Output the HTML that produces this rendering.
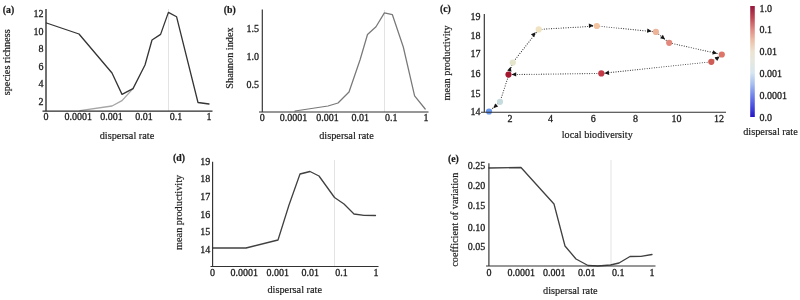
<!DOCTYPE html>
<html><head><meta charset="utf-8"><title>fig</title>
<style>
html,body{margin:0;padding:0;background:#fff;}
body{width:800px;height:300px;overflow:hidden;}
svg{display:block;}
text{font-family:"Liberation Serif",serif;font-size:10px;fill:#1c1c1c;stroke:#1c1c1c;stroke-width:0.28px;}
.pl{font-weight:bold;stroke-width:0.22px;font-size:9.8px;}
.al{font-size:10.3px;stroke-width:0.18px;}
.ax{stroke:#2c2c2c;stroke-width:1.35;fill:none;}
.ax2{stroke:#303030;stroke-width:1.15;fill:none;}
.ln{fill:none;stroke-linejoin:round;stroke-linecap:round;}
.vd{stroke:#dcdcdc;stroke-width:0.8;fill:none;}
.dt{stroke:#3a3a3a;stroke-width:1.15;stroke-dasharray:0.01 2.4;stroke-linecap:round;fill:none;}
</style></head><body>
<svg width="800" height="300" viewBox="0 0 800 300">
<defs>
<linearGradient id="cb" x1="0" y1="0" x2="0" y2="1">
<stop offset="0" stop-color="#96183c"/>
<stop offset="0.11" stop-color="#bf4a56"/>
<stop offset="0.22" stop-color="#e09088"/>
<stop offset="0.31" stop-color="#ecc0a8"/>
<stop offset="0.41" stop-color="#ece4d2"/>
<stop offset="0.5" stop-color="#e6e8e0"/>
<stop offset="0.6" stop-color="#d8e6f0"/>
<stop offset="0.7" stop-color="#a8c0f0"/>
<stop offset="0.8" stop-color="#7488ea"/>
<stop offset="0.9" stop-color="#4a50e0"/>
<stop offset="1" stop-color="#2414c4"/>
</linearGradient>
</defs>
<filter id="bl" x="0" y="0" width="100%" height="100%" filterUnits="userSpaceOnUse"><feGaussianBlur stdDeviation="0.45"/></filter>
<rect width="800" height="300" fill="#fff"/>
<g filter="url(#bl)">
<rect width="800" height="300" fill="#fff"/>

<g id="a">
<text class="pl" x="2.8" y="12.5">(a)</text>
<line class="vd" x1="168.5" y1="9" x2="168.5" y2="111"/>
<polyline class="ln" stroke="#a6a6a6" stroke-width="1.35" points="80,110.6 112,106 122,100.6 133,88.6"/>
<polyline class="ln" stroke="#343434" stroke-width="1.3" points="46.5,23 79,34 112,73 122,94.4 133,88.6 145,65 152,40 160.6,34.4 168.4,12.4 176.6,16.8 198,102.5 209,104"/>
<path class="ax" d="M46,9V111.1M42.5,111.1H212.5"/>
<text x="43.6" y="17.2" text-anchor="end">12</text>
<text x="43.6" y="34.699999999999996" text-anchor="end">10</text>
<text x="43.6" y="52.3" text-anchor="end">8</text>
<text x="43.6" y="69.8" text-anchor="end">6</text>
<text x="43.6" y="87.3" text-anchor="end">4</text>
<text x="43.6" y="104.89999999999999" text-anchor="end">2</text>
<text x="45.9" y="120.3" text-anchor="middle">0</text>
<text x="78.2" y="120.3" text-anchor="middle">0.0001</text>
<text x="111.5" y="120.3" text-anchor="middle">0.001</text>
<text x="144" y="120.3" text-anchor="middle">0.01</text>
<text x="176" y="120.3" text-anchor="middle">0.1</text>
<text x="209" y="120.3" text-anchor="middle">1</text>
<text class="al" transform="translate(10.4,62.3) rotate(-90)" text-anchor="middle">species richness</text>
<text class="al" x="127" y="138.8" text-anchor="middle">dispersal rate</text>
</g>
<g id="b">
<text class="pl" x="223.8" y="12.8">(b)</text>
<line class="vd" x1="384.5" y1="10" x2="384.5" y2="112"/>
<polyline class="ln" stroke="#787878" stroke-width="1.25" points="295,111 328,106 338,103 349,92 360,60 367.5,34.5 376,26.8 384.4,12.9 392.4,14.7 403.3,47 414.6,95.8 425.2,109"/>
<path class="ax2" d="M262.3,9.5V112M259,112H428.5"/>
<text x="259" y="31.5" text-anchor="end">1.5</text>
<text x="259" y="59.8" text-anchor="end">1.0</text>
<text x="259" y="87.8" text-anchor="end">0.5</text>
<text x="262.3" y="121.3" text-anchor="middle">0</text>
<text x="293.5" y="121.3" text-anchor="middle">0.0001</text>
<text x="327.4" y="121.3" text-anchor="middle">0.001</text>
<text x="360.3" y="121.3" text-anchor="middle">0.01</text>
<text x="391.3" y="121.3" text-anchor="middle">0.1</text>
<text x="426" y="121.3" text-anchor="middle">1</text>
<text class="al" transform="translate(232.9,58) rotate(-90)" text-anchor="middle">Shannon index</text>
<text class="al" x="346.5" y="138.6" text-anchor="middle">dispersal rate</text>
</g>
<g id="c">
<text class="pl" x="440" y="12">(c)</text>
<polyline class="dt" points="489,111.5 500,101.8 512.8,62.6 538.7,29.4 596.8,26 655.9,31.9 669.2,42.8 721.8,54.5 711.3,61.8 601.3,73.4 508.5,74.6"/>
<polygon fill="#141414" transform="translate(495,106.6) rotate(136)" points="2.30,0 -2.30,2.20 -2.30,-2.20"/>
<polygon fill="#141414" transform="translate(510,69) rotate(-73)" points="2.30,0 -2.30,2.20 -2.30,-2.20"/>
<polygon fill="#141414" transform="translate(534.1,34) rotate(-50)" points="2.30,0 -2.30,2.20 -2.30,-2.20"/>
<polygon fill="#141414" transform="translate(591.2,25.6) rotate(-3)" points="2.30,0 -2.30,2.20 -2.30,-2.20"/>
<polygon fill="#141414" transform="translate(649.5,30.9) rotate(6)" points="2.30,0 -2.30,2.20 -2.30,-2.20"/>
<polygon fill="#141414" transform="translate(663.3,38) rotate(39)" points="2.30,0 -2.30,2.20 -2.30,-2.20"/>
<polygon fill="#141414" transform="translate(715,52.9) rotate(12.5)" points="2.30,0 -2.30,2.20 -2.30,-2.20"/>
<polygon fill="#141414" transform="translate(717.8,57.8) rotate(-35)" points="2.30,0 -2.30,2.20 -2.30,-2.20"/>
<polygon fill="#141414" transform="translate(606.7,73) rotate(174)" points="2.30,0 -2.30,2.20 -2.30,-2.20"/>
<polygon fill="#141414" transform="translate(513.9,74.4) rotate(179)" points="2.30,0 -2.30,2.20 -2.30,-2.20"/>
<circle cx="489" cy="111.5" r="3.1" fill="#6696ee"/>
<circle cx="500" cy="101.8" r="3.1" fill="#c6dbdd"/>
<circle cx="512.8" cy="62.6" r="3.1" fill="#e5e5cc"/>
<circle cx="538.7" cy="29.4" r="3.1" fill="#efe3c2"/>
<circle cx="596.8" cy="26" r="3.1" fill="#f2c39e"/>
<circle cx="655.9" cy="31.9" r="3.1" fill="#edb398"/>
<circle cx="669.2" cy="42.8" r="3.1" fill="#e1897c"/>
<circle cx="721.8" cy="54.5" r="3.1" fill="#dd7469"/>
<circle cx="711.3" cy="61.8" r="3.1" fill="#cf5b55"/>
<circle cx="601.3" cy="73.4" r="3.1" fill="#c23a46"/>
<circle cx="508.5" cy="74.6" r="3.1" fill="#a3172d"/>
<path class="ax2" d="M484.3,14V112.2M481,112.2H726"/>
<text x="480.4" y="20.3" text-anchor="end">19</text>
<text x="480.4" y="38.8" text-anchor="end">18</text>
<text x="480.4" y="57.3" text-anchor="end">17</text>
<text x="480.4" y="77.3" text-anchor="end">16</text>
<text x="480.4" y="96.6" text-anchor="end">15</text>
<text x="480.4" y="115.3" text-anchor="end">14</text>
<text x="510" y="121.6" text-anchor="middle">2</text>
<text x="550.6" y="121.6" text-anchor="middle">4</text>
<text x="593.3" y="121.6" text-anchor="middle">6</text>
<text x="635.5" y="121.6" text-anchor="middle">8</text>
<text x="676.5" y="121.6" text-anchor="middle">10</text>
<text x="719" y="121.6" text-anchor="middle">12</text>
<text class="al" transform="translate(450.2,63) rotate(-90)" text-anchor="middle">mean productivity</text>
<text class="al" style="font-size:10.2px" x="597.3" y="138.1" text-anchor="middle">local biodiversity</text>
<rect x="750.2" y="6" width="4.6" height="111" fill="url(#cb)"/>
<text x="759.4" y="11.6">1.0</text>
<text x="759.4" y="33.2">0.1</text>
<text x="759.4" y="54.6">0.01</text>
<text x="759.4" y="76.6">0.001</text>
<text x="759.4" y="98.6">0.0001</text>
<text x="759.4" y="120.6">0.0</text>
<text class="al" x="770.5" y="135.2" text-anchor="middle">dispersal rate</text>
</g>
<g id="d">
<text class="pl" x="173" y="160.6">(d)</text>
<line class="vd" x1="334.5" y1="160" x2="334.5" y2="266"/>
<polyline class="ln" stroke="#404040" stroke-width="1.3" points="212.5,248 246,248 278,240 289,205 300,174 310,171.5 319,176 334.5,197.5 344,204 354,214 364,215.3 375.5,215.5"/>
<path class="ax2" d="M212.6,161.8V266.5M210.5,266.5H378.5"/>
<text x="210.3" y="165.3" text-anchor="end">19</text>
<text x="210.3" y="182.3" text-anchor="end">18</text>
<text x="210.3" y="199.8" text-anchor="end">17</text>
<text x="210.3" y="217.8" text-anchor="end">16</text>
<text x="210.3" y="234.9" text-anchor="end">15</text>
<text x="210.3" y="252.8" text-anchor="end">14</text>
<text x="212.5" y="276" text-anchor="middle">0</text>
<text x="244.2" y="276" text-anchor="middle">0.0001</text>
<text x="277.7" y="276" text-anchor="middle">0.001</text>
<text x="310.2" y="276" text-anchor="middle">0.01</text>
<text x="341.5" y="276" text-anchor="middle">0.1</text>
<text x="376" y="276" text-anchor="middle">1</text>
<text class="al" transform="translate(181.6,212.4) rotate(-90)" text-anchor="middle">mean productivity</text>
<text class="al" x="294.7" y="293.4" text-anchor="middle">dispersal rate</text>
</g>
<g id="e">
<text class="pl" x="448" y="162">(e)</text>
<line class="vd" x1="611" y1="160" x2="611" y2="266"/>
<polyline class="ln" stroke="#404040" stroke-width="1.3" points="488.9,168 521,167.5 554,204 565,246 576,259 588,265.5 598,266 610.5,265 619,263 630,256.5 641,256.3 652,254.5"/>
<path class="ax2" d="M488.9,163.3V266M486,266H655.5"/>
<text x="485.3" y="168.5" text-anchor="end">0.25</text>
<text x="485.3" y="189.10000000000002" text-anchor="end">0.20</text>
<text x="485.3" y="209.3" text-anchor="end">0.15</text>
<text x="485.3" y="230.60000000000002" text-anchor="end">0.10</text>
<text x="485.3" y="250.20000000000002" text-anchor="end">0.05</text>
<text x="489" y="276" text-anchor="middle">0</text>
<text x="521.2" y="276" text-anchor="middle">0.0001</text>
<text x="554.2" y="276" text-anchor="middle">0.001</text>
<text x="586.8" y="276" text-anchor="middle">0.01</text>
<text x="618.3" y="276" text-anchor="middle">0.1</text>
<text x="652" y="276" text-anchor="middle">1</text>
<text class="al" transform="translate(457.5,219.7) rotate(-90)" text-anchor="middle">coefficient of variation</text>
<text class="al" x="570.3" y="293.5" text-anchor="middle">dispersal rate</text>
</g>
</g></svg></body></html>
